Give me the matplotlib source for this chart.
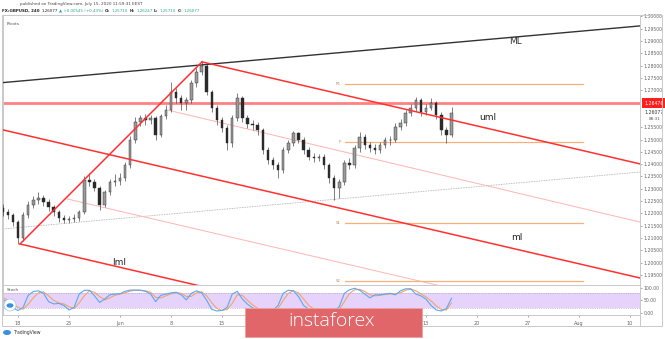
import numpy as np
import matplotlib.pyplot as plt
from matplotlib.patches import Rectangle, Ellipse

# GBPUSD, 12h bars; x = trading days since Mon May 18 (weekends skipped)
bar_days = np.arange(-1.5, 43.0, 0.5)
first_open = 1.2222
closes = [1.2205, 1.2193, 1.2165, 1.2100, 1.2193, 1.2234, 1.2254, 1.2262, 1.2246, 1.2226,
          1.2205, 1.2181, 1.2173, 1.2177, 1.2181, 1.2205, 1.2335, 1.2327, 1.2303, 1.2234,
          1.2287, 1.2327, 1.2331, 1.2343, 1.2396, 1.2498, 1.2571, 1.2587, 1.2579, 1.2587,
          1.2518, 1.2595, 1.2619, 1.2693, 1.2668, 1.2648, 1.2660, 1.2729, 1.2774, 1.2798,
          1.2693, 1.2628, 1.2579, 1.2546, 1.2485, 1.2587, 1.2668, 1.2587, 1.2563, 1.2559,
          1.2538, 1.2457, 1.2416, 1.2396, 1.2376, 1.2457, 1.2485, 1.2526, 1.2498, 1.2457,
          1.2429, 1.2425, 1.2429, 1.2396, 1.2343, 1.2303, 1.2327, 1.2404, 1.2396, 1.2465,
          1.2510, 1.2477, 1.2465, 1.2457, 1.2477, 1.2498, 1.2498, 1.2550, 1.2567, 1.2607,
          1.2628, 1.2660, 1.2611, 1.2628, 1.2648, 1.2599, 1.2538, 1.2518, 1.26077]
highs = [1.2240, 1.2218, 1.2200, 1.2172, 1.2205, 1.2250, 1.2272, 1.2285, 1.2275, 1.2258,
         1.2235, 1.2212, 1.2195, 1.2190, 1.2196, 1.2215, 1.2350, 1.2364, 1.2340, 1.2310,
         1.2297, 1.2340, 1.2360, 1.2365, 1.2410, 1.2515, 1.2590, 1.2600, 1.2605, 1.2600,
         1.2595, 1.2605, 1.2640, 1.2733, 1.2710, 1.2680, 1.2672, 1.2740, 1.2790, 1.2813,
         1.2805, 1.2700, 1.2640, 1.2590, 1.2560, 1.2600, 1.2688, 1.2675, 1.2600, 1.2580,
         1.2570, 1.2548, 1.2470, 1.2430, 1.2410, 1.2470, 1.2500, 1.2535, 1.2532, 1.2510,
         1.2468, 1.2445, 1.2442, 1.2440, 1.2405, 1.2355, 1.2340, 1.2418, 1.2425, 1.2478,
         1.2530, 1.2522, 1.2490, 1.2480, 1.2490, 1.2510, 1.2515, 1.2565, 1.2585, 1.2620,
         1.2645, 1.2672, 1.2668, 1.2645, 1.2668, 1.2658, 1.2610, 1.2550, 1.2630]
lows = [1.2190, 1.2178, 1.2150, 1.2076, 1.2090, 1.2180, 1.2222, 1.2240, 1.2230, 1.2210,
        1.2190, 1.2165, 1.2160, 1.2162, 1.2165, 1.2170, 1.2198, 1.2310, 1.2290, 1.2213,
        1.2225, 1.2275, 1.2312, 1.2315, 1.2330, 1.2385, 1.2485, 1.2555, 1.2560, 1.2562,
        1.2498, 1.2510, 1.2585, 1.2610, 1.2650, 1.2620, 1.2619, 1.2650, 1.2715, 1.2760,
        1.2680, 1.2610, 1.2560, 1.2530, 1.2457, 1.2470, 1.2575, 1.2570, 1.2548, 1.2540,
        1.2520, 1.2440, 1.2400, 1.2380, 1.2343, 1.2365, 1.2445, 1.2475, 1.2485, 1.2440,
        1.2415, 1.2410, 1.2412, 1.2380, 1.2325, 1.2254, 1.2262, 1.2315, 1.2380, 1.2385,
        1.2450, 1.2462, 1.2450, 1.2440, 1.2445, 1.2465, 1.2477, 1.2490, 1.2540, 1.2555,
        1.2595, 1.2615, 1.2595, 1.2600, 1.2618, 1.2585, 1.2520, 1.2485, 1.2510]
opens = [first_open] + closes[:-1]

stoch_k = [55, 40, 20, 10, 22, 70, 85, 88, 78, 45, 36, 38, 30, 12, 22, 75, 90, 90, 68, 42,
           55, 72, 75, 76, 86, 91, 91, 90, 86, 75, 45, 70, 75, 80, 82, 72, 52, 78, 88, 80,
           50, 14, 8, 10, 22, 75, 86, 55, 35, 20, 10, 8, 8, 10, 30, 78, 90, 88, 65, 30,
           15, 10, 8, 8, 6, 8, 25, 78, 92, 98, 90, 75, 60, 72, 72, 75, 78, 72, 88, 96,
           96, 75, 68, 55, 30, 12, 8, 18, 58]
stoch_d = [62, 50, 35, 22, 15, 35, 60, 80, 84, 68, 50, 40, 36, 25, 18, 40, 68, 88, 82, 65,
           52, 60, 70, 75, 80, 87, 90, 90, 88, 82, 62, 60, 68, 76, 80, 78, 65, 66, 80, 84,
           68, 40, 18, 10, 14, 38, 72, 70, 50, 32, 18, 10, 8, 9, 18, 50, 78, 88, 80, 55,
           30, 16, 10, 8, 7, 7, 14, 45, 78, 92, 94, 85, 72, 68, 70, 74, 76, 76, 80, 90,
           95, 88, 76, 64, 48, 28, 14, 12, 40]

# 22, 29 and Jul sit under the instaforex banner in the reference
date_ticks = [0, 5, 10, 15, 20, 40, 45, 50, 55, 60]
date_labels = ['18', '25', 'Jun', '8', '15', '13', '20', '27', 'Aug', '10']
price_ticks = [1.195, 1.200, 1.205, 1.210, 1.215, 1.220, 1.225, 1.230, 1.235, 1.240,
               1.245, 1.250, 1.255, 1.270, 1.275, 1.280, 1.285, 1.290, 1.295, 1.300]
resistance = 1.26476
last_price = 1.26077

# drawing tools: (day, price) end points
ml_pts = [(-1.47, 1.2731), (60.98, 1.2961)]
ml_lower_pts = [(-1.47, 1.2137), (60.98, 1.2368)]
fork_rise = [(0.20, 1.2076), (18.04, 1.2815)]
fork_upper = [(18.04, 1.2815), (60.98, 1.2401)]
fork_mid = [(-1.47, 1.2539), (60.98, 1.1938)]
fork_lower = [(0.20, 1.2076), (60.98, 1.1489)]
quarter_up = [(14.71, 1.2619), (60.98, 1.2165)]
quarter_low = [(4.80, 1.2259), (60.98, 1.1717)]
pivot_names = ['R1', 'P', 'S1', 'S2']
pivot_levels = [1.2725, 1.2489, 1.2162, 1.1927]
pivot_start, pivot_end = 32.06, 55.39

W, H = 665, 339
fig = plt.figure(figsize=(6.65, 3.39), dpi=100)


def rect(x0, y0, x1, y1):
    return [x0 / W, 1 - y1 / H, (x1 - x0) / W, (y1 - y0) / H]


ax = fig.add_axes(rect(3, 15, 640, 285))
ax2 = fig.add_axes(rect(3, 285, 640, 315))
xlim = (-1.47, 60.98)
grey = '#c9c9c9'
tick_col = '#666666'

# candles
o = np.array(opens)
c = np.array(closes)
up = c >= o
ax.vlines(bar_days, lows, highs, color='#3a3a3a', lw=0.45, zorder=3)
body = np.maximum(np.abs(c - o), 0.0002)
ax.bar(bar_days, body, bottom=np.minimum(o, c), width=0.24,
       color=np.where(up, '#9a9a9a', '#2a2a2a'), edgecolor='#2a2a2a', lw=0.3, zorder=4)


def seg(pts, **kw):
    ax.plot([pts[0][0], pts[1][0]], [pts[0][1], pts[1][1]], **kw)


seg(ml_pts, color='#333333', lw=1.0, zorder=5)
seg(ml_lower_pts, color='#a8a8a8', lw=0.6, ls=(0, (1, 1)), zorder=2)
red = '#ff3030'
for pts in (fork_rise, fork_upper, fork_mid, fork_lower):
    seg(pts, color=red, lw=1.1, zorder=5)
for pts in (quarter_up, quarter_low):
    seg(pts, color='#ffb4b4', lw=0.7, zorder=2)

ax.axhline(resistance, color='#ff6b6b', lw=2.0, alpha=0.85, zorder=2)

for name, lvl in zip(pivot_names, pivot_levels):
    ax.plot([pivot_start, pivot_end], [lvl, lvl], color='#f5b07c', lw=0.9, zorder=2)
    ax.text(pivot_start - 0.4, lvl, name, fontsize=2.8, color='#c08a5a',
            ha='right', va='center', zorder=6)

ax.text(48.8, 1.2896, 'ML', fontsize=6.5, color='#333333', ha='center', va='center')
ax.text(46.1, 1.2591, 'uml', fontsize=6.5, color='#222222', ha='center', va='center')
ax.text(48.9, 1.2104, 'ml', fontsize=6.5, color='#222222', ha='center', va='center')
ax.text(9.9, 1.1999, 'lml', fontsize=6.5, color='#222222', ha='center', va='center')
ax.text(0.006, 0.975, 'Pivots', transform=ax.transAxes, fontsize=3.2, color='#555555',
        ha='left', va='top')

ax.set_xlim(xlim)
ax.set_ylim(1.19095, 1.30053)
ax.set_xticks([])
ax.yaxis.tick_right()
ax.set_yticks(price_ticks)
ax.set_yticklabels(['%.5f' % p for p in price_ticks])
ax.tick_params(axis='y', length=1.5, width=0.4, pad=1, labelsize=3.3,
               colors=tick_col)
for s in ax.spines.values():
    s.set_color(grey)
    s.set_linewidth(0.7)

ax.annotate('%.5f' % resistance, xy=(1.0, resistance), xycoords=('axes fraction', 'data'),
            xytext=(3, 0), textcoords='offset points', fontsize=3.3, color='white',
            ha='left', va='center',
            bbox=dict(boxstyle='square,pad=0.5', fc='#ff1f1f', ec='none'))
ax.annotate('%.5f' % last_price, xy=(1.0, last_price), xycoords=('axes fraction', 'data'),
            xytext=(3, 0.5), textcoords='offset points', fontsize=3.3, color='#333333',
            ha='left', va='center')
ax.annotate('88:31', xy=(1.0, last_price), xycoords=('axes fraction', 'data'),
            xytext=(6, -4.3), textcoords='offset points', fontsize=3.0, color='#555555',
            ha='left', va='center')

# stochastic pane
ax2.axhspan(20, 80, color='#e5d3fb', lw=0)
ax2.axhline(80, color='#a898b8', lw=0.4, ls=(0, (2, 2)))
ax2.axhline(20, color='#a898b8', lw=0.4, ls=(0, (2, 2)))
ax2.plot(bar_days, stoch_d, color='#f4a36a', lw=0.8)
ax2.plot(bar_days, stoch_k, color='#5aa8f2', lw=0.8)
ax2.set_xlim(xlim)
ax2.set_ylim(-8, 111)
ax2.yaxis.tick_right()
ax2.set_yticks([0, 50, 100])
ax2.set_yticklabels(['0.00', '50.00', '100.00'])
ax2.set_xticks(date_ticks)
ax2.set_xticklabels(date_labels)
ax2.tick_params(axis='y', length=1.5, width=0.4, pad=1, labelsize=3.3, colors=tick_col)
ax2.tick_params(axis='x', length=1.5, width=0.4, pad=2.5, labelsize=3.5, colors=tick_col)
for s in ax2.spines.values():
    s.set_color(grey)
    s.set_linewidth(0.7)
ax2.text(0.006, 0.9, 'Stoch', transform=ax2.transAxes, fontsize=3.2, color='#555555',
         ha='left', va='top')
fig.add_artist(Ellipse((10 / W, 1 - 305 / H), 12 / W, 12 / H, fc='white', ec='#9ac7f0',
                       lw=0.5, zorder=8))
fig.add_artist(Ellipse((10 / W, 1 - 305.5 / H), 7 / W, 4.5 / H, fc='#3d8fe0', ec='none',
                       zorder=9))

# outer frame
fig.add_artist(Rectangle((2 / W, 1 - 326 / H), 660 / W, 311 / H, fill=False, ec=grey,
                         lw=0.7, transform=fig.transFigure))
fig.add_artist(plt.Line2D([640 / W, 640 / W], [1 - 326 / H, 1 - 315 / H], color=grey, lw=0.7))

# header
fig.text(20 / W, 1 - 4.5 / H, 'published on TradingView.com, July 15, 2020 11:59:31 EEST',
         fontsize=3.0, color='#444444', va='center')
teal = '#26a69a'
parts = [('FX:GBPUSD, 240', '#222222', 'bold'), ('1.26077', '#222222', 'normal'),
         ('\u25b2 +0.00545 (+0.43%)', teal, 'normal'), ('O:', '#222222', 'bold'),
         ('1.25710', teal, 'normal'), ('H:', '#222222', 'bold'),
         ('1.26247', teal, 'normal'), ('L:', '#222222', 'bold'),
         ('1.25710', teal, 'normal'), ('C:', '#222222', 'bold'),
         ('1.26077', teal, 'normal')]
renderer = fig.canvas.get_renderer()
xpos = 2.0
for s, col, wt in parts:
    t = fig.text(xpos / W, 1 - 10.5 / H, s, fontsize=2.9, color=col, fontweight=wt,
                 va='center')
    xpos += t.get_window_extent(renderer).width + 1.6

# TradingView footer
fig.add_artist(Ellipse((7 / W, 1 - 332.5 / H), 8 / W, 5 / H, fc='#3d8fe0', ec='none'))
fig.text(13 / W, 1 - 332.5 / H, 'TradingView', fontsize=3.3, color='#333333', va='center')

# instaforex banner
fig.add_artist(Rectangle((245 / W, 1 - 337 / H), 177 / W, 29 / H, fc='#e0666a', ec='#f0a0a0',
                         lw=0.6, transform=fig.transFigure, zorder=10))
fig.text(332 / W, 1 - 321.5 / H, 'instaforex', color='white', fontsize=14,
         family='Open Sans', fontweight='light', ha='center', va='center', zorder=11)

fig.savefig('out.png', dpi=100)
